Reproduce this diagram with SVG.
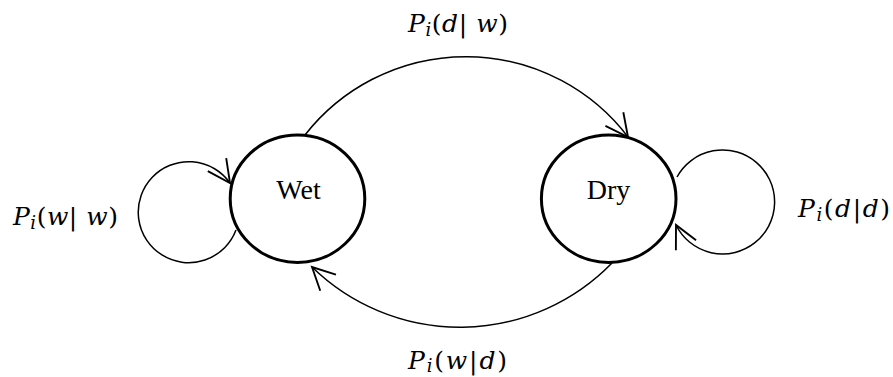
<svg xmlns="http://www.w3.org/2000/svg" width="893" height="377" viewBox="0 0 893 377">
<style>
.node{fill:#fff;stroke:#000;stroke-width:3}
.edge{fill:none;stroke:#000;stroke-width:1.5;marker-end:url(#arr)}
.name{font-family:"Liberation Serif","Times New Roman",serif;font-size:28px;fill:#000;text-anchor:middle}
.lbl{font-family:"DejaVu Serif","Liberation Serif",serif;font-size:25px;fill:#000}
.it{font-style:italic}
.sub{font-style:italic;font-size:18px}
</style>
<defs>
<marker id="arr" markerUnits="userSpaceOnUse" markerWidth="30" markerHeight="30" viewBox="-20 -12 22 24" refX="0" refY="0" orient="auto">
<path d="M-18,-9 L0,0 L-18,9" fill="none" stroke="#000" stroke-width="1.5"/>
</marker>
</defs>
<rect width="893" height="377" fill="#fff"/>
<g id="connectors">
<path class="edge" d="M305,135 A204,204 0 0 1 628,137"/>
<path class="edge" d="M612,263 A212,212 0 0 1 312,267"/>
<path class="edge" d="M236,230 A50.5,50.5 0 1 1 230,183"/>
<path class="edge" d="M677,177 A52,52 0 1 1 676,225"/>
</g>
<g id="wet">
<ellipse class="node" cx="297.5" cy="198.7" rx="67.3" ry="63.7"/>
<text class="name" x="298.5" y="199">Wet</text>
</g>
<g id="dry">
<ellipse class="node" cx="608.7" cy="198.7" rx="67.3" ry="63.7"/>
<text class="name" x="608.5" y="199">Dry</text>
</g>
<g id="labels">
<text class="lbl" x="408" y="32" textLength="100" lengthAdjust="spacing"><tspan class="it">P</tspan><tspan class="sub" dy="4">i</tspan><tspan dy="-4">(</tspan><tspan class="it">d</tspan>| <tspan class="it">w</tspan>)</text>
<text class="lbl" x="13" y="225" textLength="105" lengthAdjust="spacing"><tspan class="it">P</tspan><tspan class="sub" dy="4">i</tspan><tspan dy="-4">(</tspan><tspan class="it">w</tspan>| <tspan class="it">w</tspan>)</text>
<text class="lbl" x="798" y="217" textLength="92" lengthAdjust="spacing"><tspan class="it">P</tspan><tspan class="sub" dy="4">i</tspan><tspan dy="-4">(</tspan><tspan class="it">d</tspan>|<tspan class="it">d</tspan>)</text>
<text class="lbl" x="408" y="369" textLength="99" lengthAdjust="spacing"><tspan class="it">P</tspan><tspan class="sub" dy="3">i</tspan><tspan dy="-3">(</tspan><tspan class="it">w</tspan>|<tspan class="it">d</tspan>)</text>
</g>
</svg>
